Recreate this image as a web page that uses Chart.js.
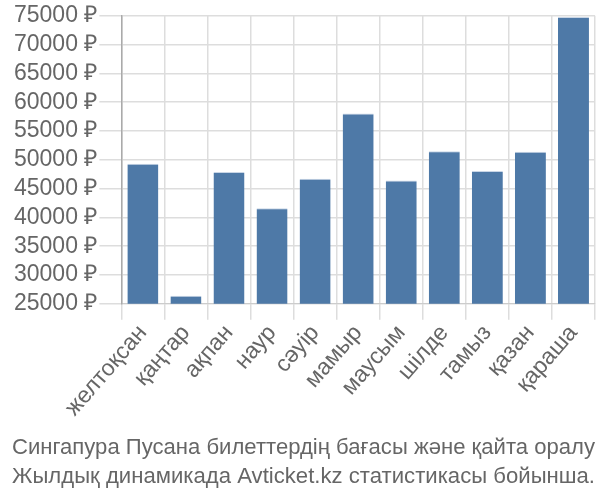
<!DOCTYPE html>
<html>
<head>
<meta charset="utf-8">
<script src="https://cdn.jsdelivr.net/npm/chart.js@4.4.0/dist/chart.umd.min.js"></script>
<style>
  body { margin: 0; background: #fff; }
  #wrap { width: 600px; height: 500px; }
</style>
</head>
<body>
<div id="wrap"><canvas id="priceChart"></canvas></div>
<script>
const months = ['желтоқсан', 'қаңтар', 'ақпан', 'наур', 'сәуір', 'мамыр', 'маусым', 'шілде', 'тамыз', 'қазан', 'қараша'];
const prices = [49300, 26400, 47900, 41600, 46700, 58050, 46400, 51500, 48050, 51400, 74800];
const titleLines = ['Сингапура Пусана билеттердің бағасы және қайта оралу', 'Жылдық динамикада Avticket.kz статистикасы бойынша.'];

const ctx = document.getElementById('priceChart').getContext('2d');
const myChart = new Chart(ctx, {
    type: 'bar',
    data: {
        labels: months,
        datasets: [{
            data: prices,
            backgroundColor: '#4e79a7',
            borderColor: '#c9d6e6',
            borderWidth: { top: 1, left: 0, right: 0, bottom: 0 },
            categoryPercentage: 0.72,
            barPercentage: 1
        }]
    },
    options: {
        responsive: true,
        maintainAspectRatio: false,
        animation: false,
        layout: { padding: { left: 12, right: 5, top: 4, bottom: 9 } },
        plugins: {
            legend: { display: false },
            tooltip: { enabled: false },
            title: {
                display: true,
                position: 'bottom',
                text: titleLines,
                color: '#666',
                font: { family: '"Liberation Sans", sans-serif', size: 22.8, weight: 'normal', lineHeight: 1.28 },
                padding: { top: 11, bottom: 0 }
            }
        },
        scales: {
            x: {
                grid: { color: '#ddd', lineWidth: 1.5, tickLength: 16, offset: true },
                border: { color: '#ccc' },
                ticks: {
                    color: '#666',
                    autoSkip: false,
                    font: { family: '"Liberation Sans", sans-serif', size: 23 },
                    minRotation: 49,
                    maxRotation: 49,
                    padding: 0
                }
            },
            y: {
                min: 25000,
                max: 75000,
                grid: { color: '#ddd', lineWidth: 1.5, tickLength: 22 },
                border: { color: '#aaa', width: 1.5 },
                ticks: {
                    stepSize: 5000,
                    autoSkip: false,
                    color: '#666',
                    padding: 2,
                    font: { family: '"Liberation Sans", sans-serif', size: 23 },
                    callback: v => v + ' ₽'
                }
            }
        }
    }
});
</script>
</body>
</html>
